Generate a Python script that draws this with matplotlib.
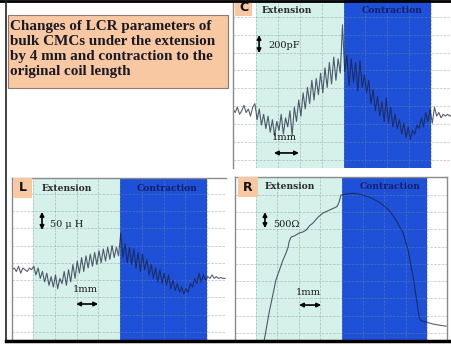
import matplotlib
matplotlib.use("Agg")
import matplotlib.pyplot as plt
import numpy as np
from matplotlib.patches import Rectangle
from matplotlib.lines import Line2D

# --- data (grid units: 1 division per grid cell) ---
title_lines = ["Changes of LCR parameters of",
               "bulk CMCs under the extension",
               "by 4 mm and contraction to the",
               "original coil length"]
phase_names = ["Extension", "Contraction"]

# C: capacitance trace, samples every 0.1 division
c_y = [3.3, 3.1, 3.4, 3.0, 3.2, 3.5, 3.1, 3.3, 2.9, 3.4,
       3.6, 2.7, 3.3, 2.4, 3.0, 2.2, 2.9, 2.0, 2.7, 1.8, 2.6, 2.1, 3.0, 1.9, 2.8,
       2.3, 3.2, 1.8, 3.4, 2.6, 3.8, 2.9, 4.2, 3.3, 4.5, 3.6, 4.9, 3.8, 5.0, 4.1,
       5.3, 4.2, 5.6, 4.5, 5.9, 4.7, 6.2, 4.9, 6.1, 5.3,
       8.0, 5.4, 6.3, 4.6, 6.1, 4.8, 5.9, 4.3, 6.0, 4.5, 5.2, 4.2, 4.9,
       3.6, 4.4, 3.2, 4.0, 2.9, 3.7, 2.6, 3.9, 2.5, 3.4, 2.3, 3.0,
       2.2, 2.7, 1.9, 2.5, 1.7, 2.3, 1.6, 2.1, 1.9, 2.4,
       2.2, 2.8, 2.3, 3.1, 2.6,
       3.3, 2.5, 3.4, 2.9, 3.1, 2.8, 3.0, 2.9, 3.0, 2.9, 2.95]
c_x0 = -1.05

# L: inductance trace
l_y = [3.6, 3.7, 3.5, 3.8, 3.4, 3.7, 3.6, 3.5, 3.7, 3.6,
       3.8, 3.3, 3.7, 3.1, 3.5, 2.9, 3.4, 2.7, 3.2, 2.6, 3.3, 2.5, 3.1,
       2.8, 3.5, 2.7, 3.6, 2.9, 3.9, 3.1, 4.1, 3.4, 4.3, 3.5, 4.4, 3.7,
       4.5, 3.8, 4.6, 3.9, 4.7, 4.0, 4.8, 4.1, 4.9, 4.2, 5.0, 4.3, 4.9, 4.4,
       5.7, 4.3, 5.1, 4.0, 4.9, 3.9, 4.8, 3.7, 4.6, 3.5, 4.5, 3.6, 4.2, 3.3,
       3.9, 3.1, 3.7, 2.9, 3.6, 2.8, 3.4, 2.7, 3.3, 2.5, 3.0, 2.4, 2.8, 2.3,
       2.6, 2.2, 2.5, 2.3, 2.8, 2.6, 3.1, 2.8, 3.4, 2.9, 3.3, 3.0,
       3.2, 3.1, 3.3, 3.1, 3.2, 3.1, 3.15, 3.1, 3.1]
l_x0 = -0.97

# R: resistance trace
r_x = [0.37, 0.61, 0.93, 1.26, 1.40, 1.50, 1.55, 1.64, 1.80, 2.01, 2.20, 2.34,
       2.50, 2.66, 2.90, 3.13, 3.45, 3.74, 3.80, 3.88, 3.97, 4.21, 4.50, 4.81,
       5.28, 5.75, 6.21, 6.54, 6.87, 7.10, 7.34, 7.48, 7.62, 7.70, 7.94, 8.27,
       8.60, 8.88]
r_y = [-0.52, 1.16, 3.06, 4.22, 4.62, 4.97, 5.30, 5.55, 5.62, 5.78, 5.85, 5.95,
       6.20, 6.36, 6.70, 6.94, 7.12, 7.28, 7.35, 7.57, 7.98, 8.03, 8.08, 8.03,
       7.86, 7.57, 7.11, 6.53, 5.78, 4.80, 3.24, 2.08, 0.92, 0.72, 0.64, 0.52,
       0.45, 0.40]

GREEN = "#d6f1e9"
BLUE = "#1f50d8"
PEACH = "#f8c8a2"
TRACE = "#18203a"

fig = plt.figure(figsize=(4.52, 3.45), dpi=100)
W, H = 452.0, 345.0


def px_axes(x0, y0, x1, y1):
    return fig.add_axes([x0 / W, 1 - y1 / H, (x1 - x0) / W, (y1 - y0) / H])


def setup(ax, xlim, ylim, yticks, letter, lbox, spines):
    ax.set_xlim(*xlim)
    ax.set_ylim(*ylim)
    ax.axvspan(0, 4, color=GREEN, lw=0, zorder=0)
    ax.axvspan(4, 8, color=BLUE, lw=0, zorder=0)
    ax.set_xticks(range(0, 9))
    ax.set_yticks(yticks)
    ax.grid(True, color="#7a8a99", alpha=0.45, lw=0.6, ls=(0, (3, 1.5)), zorder=1)
    ax.tick_params(length=0, labelbottom=False, labelleft=False)
    for s in ax.spines:
        ax.spines[s].set_visible(s in spines)
        ax.spines[s].set_color("#8a8a8a")
        ax.spines[s].set_linewidth(1.0)
    ax.add_patch(Rectangle((lbox[0], lbox[2]), lbox[1] - lbox[0], 1 - lbox[2],
                           transform=ax.transAxes, color=PEACH, lw=0, zorder=3))
    ax.text((lbox[0] + lbox[1]) / 2, (1 + lbox[2]) / 2, letter, transform=ax.transAxes,
            ha="center", va="center", fontsize=9, fontweight="bold",
            family="DejaVu Sans", color="#111111", zorder=4)


def head(ax, xe, xc, y):
    ax.text(xe, y, phase_names[0], ha="center", va="center", fontsize=6.6,
            family="DejaVu Serif", fontweight="bold", color="#2b2b2b", zorder=4)
    ax.text(xc, y, phase_names[1], ha="center", va="center", fontsize=6.6,
            family="DejaVu Serif", fontweight="bold", color="#14206a", zorder=4)


def scale_marks(ax, ax_x, ay0, ay1, label, tx, ty, mx, my, hx0, hx1, hy):
    ax.annotate("", xy=(ax_x, ay0), xytext=(ax_x, ay1),
                arrowprops=dict(arrowstyle="<|-|>", color="black", lw=1.2,
                                mutation_scale=6, shrinkA=0, shrinkB=0), zorder=4)
    ax.text(tx, ty, label, ha="left", va="center", fontsize=7,
            family="DejaVu Serif", color="#1a1a1a", zorder=4)
    ax.text(mx, my, "1mm", ha="center", va="center", fontsize=7,
            family="DejaVu Serif", color="#1a1a1a", zorder=4)
    ax.annotate("", xy=(hx0, hy), xytext=(hx1, hy),
                arrowprops=dict(arrowstyle="<|-|>", color="black", lw=1.2,
                                mutation_scale=6, shrinkA=0, shrinkB=0), zorder=4)


# C panel
axc = px_axes(233, 0, 452, 168)
setup(axc, (-1.05, 8.95), (0, 9.39), np.arange(0.45, 9, 1.0), "C",
      (0.009, 0.087, 0.905), ["left"])
cx = c_x0 + 0.1 * np.arange(len(c_y))
axc.plot(cx, c_y, color=TRACE, alpha=0.72, lw=0.8, zorder=2)
head(axc, 1.42, 6.21, 8.83)
scale_marks(axc, 0.14, 7.43, 6.42, "200pF", 0.55, 6.87, 1.28, 1.68, 0.82, 1.96, 0.84)

# L panel
axl = px_axes(12, 178, 226, 340)
setup(axl, (-0.97, 8.87), (-0.46, 8.9), range(0, 9), "L",
      (0.005, 0.093, 0.877), ["left", "top"])
lx = l_x0 + 0.1 * np.arange(len(l_y))
axl.plot(lx, l_y, color=TRACE, alpha=0.72, lw=0.8, zorder=2)
head(axl, 1.56, 6.16, 8.32)
scale_marks(axl, 0.41, 6.94, 5.90, "50 μ H", 0.78, 6.2, 2.39, 2.43, 1.98, 2.99, 1.62)

# R panel
axr = px_axes(235, 177, 447, 340)
setup(axr, (-0.98, 8.92), (-0.40, 9.02), range(0, 9), "R",
      (0.014, 0.108, 0.877), ["left", "top", "right"])
axr.plot(r_x, r_y, color=TRACE, alpha=0.72, lw=0.8, zorder=2)
head(axr, 1.59, 6.26, 8.47)
scale_marks(axr, 0.42, 6.99, 6.07, "500Ω", 0.79, 6.3, 2.43, 2.37, 2.01, 3.04, 1.62)

# title box
fig.patches.append(Rectangle((8 / W, 1 - 88 / H), 220 / W, 73 / H, transform=fig.transFigure,
                             facecolor=PEACH, edgecolor="#8f7a70", lw=0.8, zorder=1))
fig.text(10 / W, 1 - 20 / H, "\n".join(title_lines), ha="left", va="top",
         fontsize=10.9, fontweight="bold", family="Liberation Serif",
         color="#1a1a24", linespacing=1.2, zorder=2)

# outer frame lines
fig.add_artist(Line2D([0, 1], [1 - 1 / H, 1 - 1 / H], color="black", lw=2))
fig.add_artist(Line2D([6 / W, 6 / W], [1 - 341 / H, 1], color="#222222", lw=1.2))
fig.add_artist(Line2D([6 / W, 1], [1 - 341 / H, 1 - 341 / H], color="black", lw=2.5))

fig.savefig("out.png", dpi=100)
